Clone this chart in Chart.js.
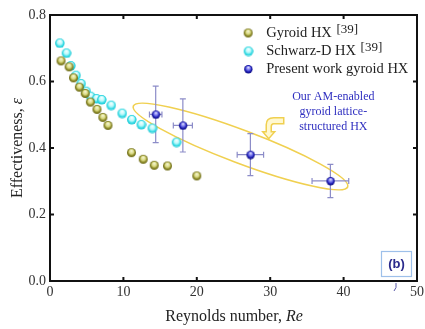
<!DOCTYPE html>
<html>
<head>
<meta charset="utf-8">
<script src="https://cdn.jsdelivr.net/npm/chart.js@4.4.1/dist/chart.umd.min.js"></script>
<style>
  html, body { margin: 0; padding: 0; background: #fff; }
  #wrap { width: 425px; height: 329px; position: relative; }
</style>
</head>
<body>
<div id="wrap"><canvas id="chart" width="425" height="329"></canvas></div>
<script>
// --- data ---
var gyroidRe = [1.5, 2.6, 3.2, 4.0, 4.8, 5.5, 6.4, 7.2, 7.9, 11.1, 12.7, 14.2, 16.0, 20.0];
var gyroidEff = [0.662, 0.644, 0.611, 0.583, 0.564, 0.538, 0.516, 0.492, 0.468, 0.386, 0.366, 0.348, 0.346, 0.316];

var schwarzRe = [1.3, 2.2, 2.8, 3.5, 4.2, 4.9, 5.5, 6.3, 7.0, 8.3, 9.8, 11.1, 12.4, 13.9, 17.2];
var schwarzEff = [0.716, 0.686, 0.648, 0.619, 0.594, 0.571, 0.556, 0.549, 0.546, 0.529, 0.505, 0.486, 0.471, 0.460, 0.418];

var presentRe = [14.4, 18.1, 27.3, 38.2];
var presentEff = [0.501, 0.468, 0.380, 0.301];
var presentReErr = [0.85, 1.3, 1.8, 2.5];
var presentEffErr = [0.085, 0.080, 0.063, 0.050];

var seriesNames = ["Gyroid HX", "Schwarz-D HX", "Present work gyroid HX"];
var seriesRefs = ["[39]", "[39]", ""];
var xTicks = [0, 10, 20, 30, 40, 50];
var yTicks = [0.0, 0.2, 0.4, 0.6, 0.8];
var noteLines = ["Our AM-enabled", "gyroid lattice-", "structured HX"];

var serif = "'Liberation Serif', 'DejaVu Serif', serif";

function makeBall(r, light, mid, dark, hi) {
    var c = document.createElement("canvas");
    c.width = r * 2 + 2; c.height = r * 2 + 2;
    var g = c.getContext("2d");
    var cx = r + 1, cy = r + 1;
    var grad = g.createRadialGradient(cx, cy - r * 0.45, r * 0.1, cx, cy, r);
    grad.addColorStop(0, hi);
    grad.addColorStop(0.45, light);
    grad.addColorStop(0.75, mid);
    grad.addColorStop(1, dark);
    g.fillStyle = grad;
    g.beginPath(); g.arc(cx, cy, r, 0, Math.PI * 2); g.fill();
    return c;
}
var olive = makeBall(4.5, "#d8d880", "#8c8a28", "#6a6818", "#f4f4d0");
var cyan = makeBall(4.8, "#b8f8fa", "#38dde6", "#22c6d2", "#f0ffff");
var blue = makeBall(4.2, "#6a6ae8", "#1a1ab0", "#101080", "#d8d8ff");
var markers = [olive, cyan, blue];

function pts(xs, ys) {
    var out = [];
    for (var i = 0; i < xs.length; i++) out.push({ x: xs[i], y: ys[i] });
    return out;
}

var decor = {
    id: "decor",
    beforeDatasetsDraw: function (chart) {
        var ctx = chart.ctx, xs = chart.scales.x, ys = chart.scales.y;
        // ellipse around the present work
        var x1 = xs.getPixelForValue(11.35), y1 = ys.getPixelForValue(0.526);
        var x2 = xs.getPixelForValue(40.56), y2 = ys.getPixelForValue(0.283);
        var cx = (x1 + x2) / 2, cy = (y1 + y2) / 2;
        var a = Math.hypot(x2 - x1, y2 - y1) / 2;
        var ang = Math.atan2(y2 - y1, x2 - x1);
        ctx.save();
        ctx.strokeStyle = "#f0d050";
        ctx.lineWidth = 1.6;
        ctx.beginPath();
        ctx.ellipse(cx, cy, a, 16.5, ang, 0, Math.PI * 2);
        ctx.stroke();

        // bent arrow
        var tx = xs.getPixelForValue(29.8), ty = ys.getPixelForValue(0.428);
        ctx.lineWidth = 1.5;
        ctx.fillStyle = "#fff8d0";
        ctx.beginPath();
        ctx.moveTo(tx, ty);
        ctx.lineTo(tx - 6, ty - 7);
        ctx.lineTo(tx - 2.5, ty - 7);
        ctx.lineTo(tx - 2.5, ty - 14);
        ctx.quadraticCurveTo(tx - 2.5, ty - 21, tx + 5, ty - 21);
        ctx.lineTo(tx + 15, ty - 21);
        ctx.lineTo(tx + 15, ty - 15);
        ctx.lineTo(tx + 5, ty - 15);
        ctx.quadraticCurveTo(tx + 2.5, ty - 15, tx + 2.5, ty - 12);
        ctx.lineTo(tx + 2.5, ty - 7);
        ctx.lineTo(tx + 6, ty - 7);
        ctx.closePath();
        ctx.fill();
        ctx.stroke();

        // error bars
        ctx.strokeStyle = "#8c8cc8";
        ctx.lineWidth = 1.2;
        for (var i = 0; i < presentRe.length; i++) {
            var px = xs.getPixelForValue(presentRe[i]);
            var py = ys.getPixelForValue(presentEff[i]);
            var top = ys.getPixelForValue(presentEff[i] + presentEffErr[i]);
            var bot = ys.getPixelForValue(presentEff[i] - presentEffErr[i]);
            var lft = xs.getPixelForValue(presentRe[i] - presentReErr[i]);
            var rgt = xs.getPixelForValue(presentRe[i] + presentReErr[i]);
            ctx.beginPath();
            ctx.moveTo(px, top); ctx.lineTo(px, bot);
            ctx.moveTo(px - 3, top); ctx.lineTo(px + 3, top);
            ctx.moveTo(px - 3, bot); ctx.lineTo(px + 3, bot);
            ctx.moveTo(lft, py); ctx.lineTo(rgt, py);
            ctx.moveTo(lft, py - 3); ctx.lineTo(lft, py + 3);
            ctx.moveTo(rgt, py - 3); ctx.lineTo(rgt, py + 3);
            ctx.stroke();
        }
        ctx.restore();
    },
    afterDraw: function (chart) {
        var ctx = chart.ctx, xs = chart.scales.x, ys = chart.scales.y;
        var a = chart.chartArea;
        ctx.save();
        // frame
        ctx.strokeStyle = "#111";
        ctx.lineWidth = 2;
        ctx.strokeRect(a.left, a.top, a.right - a.left, a.bottom - a.top);
        // inward ticks
        ctx.lineWidth = 2;
        ctx.beginPath();
        xTicks.forEach(function (v) {
            var x = xs.getPixelForValue(v);
            ctx.moveTo(x, a.bottom); ctx.lineTo(x, a.bottom - 4);
            ctx.moveTo(x, a.top); ctx.lineTo(x, a.top + 4);
        });
        yTicks.forEach(function (v) {
            var y = ys.getPixelForValue(v);
            ctx.moveTo(a.left, y); ctx.lineTo(a.left + 4, y);
            ctx.moveTo(a.right, y); ctx.lineTo(a.right - 4, y);
        });
        ctx.stroke();

        // x tick labels
        ctx.fillStyle = "#333";
        ctx.font = "14px " + serif;
        ctx.textAlign = "center";
        ctx.textBaseline = "middle";
        xTicks.forEach(function (v) {
            ctx.fillText(String(v), xs.getPixelForValue(v), a.bottom + 11);
        });

        // axis titles
        ctx.fillStyle = "#222";
        ctx.font = "16px " + serif;
        var t1 = "Reynolds number, ", t2 = "Re";
        var w1 = ctx.measureText(t1).width;
        ctx.font = "italic 16px " + serif;
        var w2 = ctx.measureText(t2).width;
        var sx = 234 - (w1 + w2) / 2;
        ctx.textAlign = "left";
        ctx.font = "16px " + serif;
        ctx.fillText(t1, sx, 317);
        ctx.font = "italic 16px " + serif;
        ctx.fillText(t2, sx + w1, 317);

        ctx.save();
        ctx.translate(18, 148);
        ctx.rotate(-Math.PI / 2);
        ctx.font = "16px " + serif;
        var u1 = "Effectiveness, ", u2 = "\u03b5";
        var v1 = ctx.measureText(u1).width;
        ctx.font = "italic 16px " + serif;
        var v2 = ctx.measureText(u2).width;
        var s2 = -(v1 + v2) / 2;
        ctx.font = "16px " + serif;
        ctx.fillText(u1, s2, 0);
        ctx.font = "italic 16px " + serif;
        ctx.fillText(u2, s2 + v1, 0);
        ctx.restore();

        // legend
        var lx = xs.getPixelForValue(27.0);
        var ly = [33, 51, 69];
        for (var i = 0; i < seriesNames.length; i++) {
            var m = markers[i];
            ctx.drawImage(m, lx - m.width / 2, ly[i] - m.height / 2);
            ctx.font = "14.5px " + serif;
            ctx.fillStyle = "#222";
            ctx.textAlign = "left";
            ctx.fillText(seriesNames[i], lx + 18, ly[i]);
            if (seriesRefs[i]) {
                var w = ctx.measureText(seriesNames[i] + " ").width;
                ctx.font = "13px " + serif;
                ctx.fillText(seriesRefs[i], lx + 19 + w, ly[i] - 3);
            }
        }

        // note text
        ctx.fillStyle = "#3030c0";
        ctx.font = "12px " + serif;
        ctx.textAlign = "center";
        var nx = xs.getPixelForValue(38.6);
        for (var j = 0; j < noteLines.length; j++) {
            ctx.fillText(noteLines[j], nx, 97 + j * 15);
        }

        // panel label
        ctx.strokeStyle = "#9ec0ea";
        ctx.lineWidth = 1.2;
        ctx.strokeRect(381.5, 251.5, 30, 25);
        ctx.fillStyle = "#2a2a8c";
        ctx.font = "bold 13px 'Liberation Sans', Arial, sans-serif";
        ctx.textAlign = "center";
        ctx.fillText("(b)", 396.5, 264);
        ctx.strokeStyle = "#5858a8";
        ctx.lineWidth = 1;
        ctx.beginPath();
        ctx.moveTo(396, 283);
        ctx.quadraticCurveTo(397, 288, 394, 291);
        ctx.stroke();
        ctx.restore();
    }
};

new Chart(document.getElementById("chart"), {
    type: "scatter",
    data: {
        datasets: [
            { label: seriesNames[0], data: pts(gyroidRe, gyroidEff), pointStyle: olive },
            { label: seriesNames[1], data: pts(schwarzRe, schwarzEff), pointStyle: cyan },
            { label: seriesNames[2], data: pts(presentRe, presentEff), pointStyle: blue }
        ]
    },
    options: {
        responsive: false,
        animation: false,
        events: [],
        layout: { padding: { top: 15, right: 8, left: 0, bottom: 0 } },
        plugins: { legend: { display: false }, tooltip: { enabled: false } },
        scales: {
            x: {
                type: "linear", min: 0, max: 50,
                afterBuildTicks: function (s) { s.ticks = xTicks.map(function (v) { return { value: v }; }); },
                afterFit: function (s) { s.height = 48; },
                grid: { display: false, drawTicks: false },
                border: { display: false },
                ticks: { display: false }
            },
            y: {
                type: "linear", min: 0, max: 0.8,
                afterBuildTicks: function (s) { s.ticks = yTicks.map(function (v) { return { value: v }; }); },
                afterFit: function (s) { s.width = 50; },
                grid: { display: false, drawTicks: false },
                border: { display: false },
                ticks: {
                    padding: 4, color: "#333", font: { family: serif, size: 14 },
                    callback: function (v) { return v.toFixed(1); }
                }
            }
        }
    },
    plugins: [decor]
});
</script>
</body>
</html>
